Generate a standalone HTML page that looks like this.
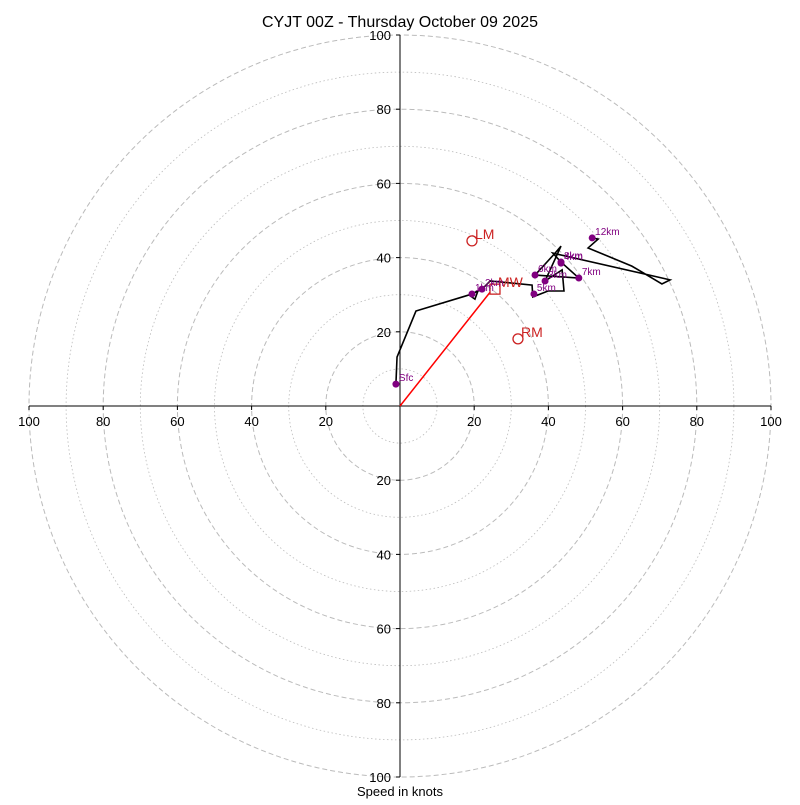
<!DOCTYPE html>
<html><head><meta charset="utf-8"><style>
body{margin:0;background:#fff}
svg text{font-family:"Liberation Sans","DejaVu Sans",sans-serif}
</style></head><body>
<svg id="c" width="800" height="800" xmlns="http://www.w3.org/2000/svg">
<text x="400" y="27" text-anchor="middle" font-size="16">CYJT 00Z - Thursday October 09 2025</text>
<text x="400" y="796" text-anchor="middle" font-size="13">Speed in knots</text>
<g id="rings"></g><g id="axes"></g><g id="series"></g>
</svg>
<script>
const ringRadii=[10,20,30,40,50,60,70,80,90,100];
const tickLabels=[20,40,60,80,100];
const traceU=[-1.1,-0.8,4.3,17.5,19.4,21.0,20.2,18.6,22.1,24.3,35.6,35.8,39.9,44.2,43.7,39.1,43.4,41.8,36.4,48.2,43.4,41.2,72.8,70.6,62.5,50.7,53.4,51.8];
const traceV=[5.9,13.2,25.6,29.6,30.2,31.0,28.8,29.9,31.5,33.7,32.6,29.4,31.0,31.0,36.7,33.7,43.1,41.2,35.3,34.5,38.8,41.2,34.0,32.9,37.7,42.6,45.0,45.3];
const markerLabels=["Sfc","1km","2km","3km","4km","5km","6km","7km","8km","12km"];
const markerU=[-1.1,19.4,22.1,39.1,43.4,36.1,36.4,48.2,43.4,51.8];
const markerV=[5.9,30.2,31.5,33.7,38.5,30.2,35.3,34.5,38.8,45.3];
const motionLabels=["LM","RM","MW"];
const motionU=[19.4,31.8,25.6];
const motionV=[44.5,18.1,31.5];
const meanU=24.3, meanV=30.7;
const cx=400,cy=406,k=3.71;
const X=u=>cx+u*k, Y=v=>cy-v*k;
const NS="http://www.w3.org/2000/svg";
function mk(tag,parent,attrs){const e=document.createElementNS(NS,tag);for(const a in attrs)e.setAttribute(a,attrs[a]);document.getElementById(parent).appendChild(e);return e;}
ringRadii.forEach(r=>{
 const e=mk('circle','rings',{cx:cx,cy:cy,r:r*k,fill:'none',stroke:'#bbb','stroke-width':r%20==0?1:0.8,'stroke-dasharray':r%20==0?'5,3':'1.5,2.5'});
 
 
});
let l=mk('line','axes',{x1:X(-100),y1:cy,x2:X(100),y2:cy,stroke:'#000'});


l=mk('line','axes',{x1:cx,y1:Y(100),x2:cx,y2:Y(-100),stroke:'#000'});


tickLabels.forEach(t=>{
 [1,-1].forEach(s=>{
  mk('line','axes',{x1:X(s*t),y1:cy,x2:X(s*t),y2:cy+4,stroke:'#000'});
  let tx=mk('text','axes',{x:X(s*t),y:cy+20,'text-anchor':'middle','font-size':13});
  tx.textContent=t;
  
  
  mk('line','axes',{x1:cx-4,y1:Y(s*t),x2:cx,y2:Y(s*t),stroke:'#000'});
  let ty=mk('text','axes',{x:cx-9,y:Y(s*t)+5,'text-anchor':'end','font-size':13});
  ty.textContent=t;
  
  
 });
});
let ar=mk('line','series',{x1:X(0),y1:Y(0),x2:X(meanU),y2:Y(meanV),stroke:'#f00','stroke-width':1.5});


let pts=traceU.map((u,i)=>X(u)+','+Y(traceV[i])).join(' ');
let pl=mk('polyline','series',{points:pts,fill:'none',stroke:'#000','stroke-width':1.6});


motionLabels.forEach((m,i)=>{
 let sh=m=='MW'?mk('rect','series',{x:X(motionU[i])-5,y:Y(motionV[i])-5,width:10,height:10,fill:'none',stroke:'#c22','stroke-width':1.3})
  :mk('circle','series',{cx:X(motionU[i]),cy:Y(motionV[i]),r:5,fill:'none',stroke:'#c22','stroke-width':1.3});
 
 
 let t=mk('text','series',{x:X(motionU[i])+3,y:Y(motionV[i])-2,'font-size':14,fill:'#c22'});
 t.textContent=m;
 
 
});
markerLabels.forEach((m,i)=>{
 let c=mk('circle','series',{cx:X(markerU[i]),cy:Y(markerV[i]),r:3.5,fill:'#800080'});
 
 
 let t=mk('text','series',{x:X(markerU[i])+3,y:Y(markerV[i])-3,'font-size':10,fill:'#800080'});
 t.textContent=m;
 
 
});
</script>
</body></html>
